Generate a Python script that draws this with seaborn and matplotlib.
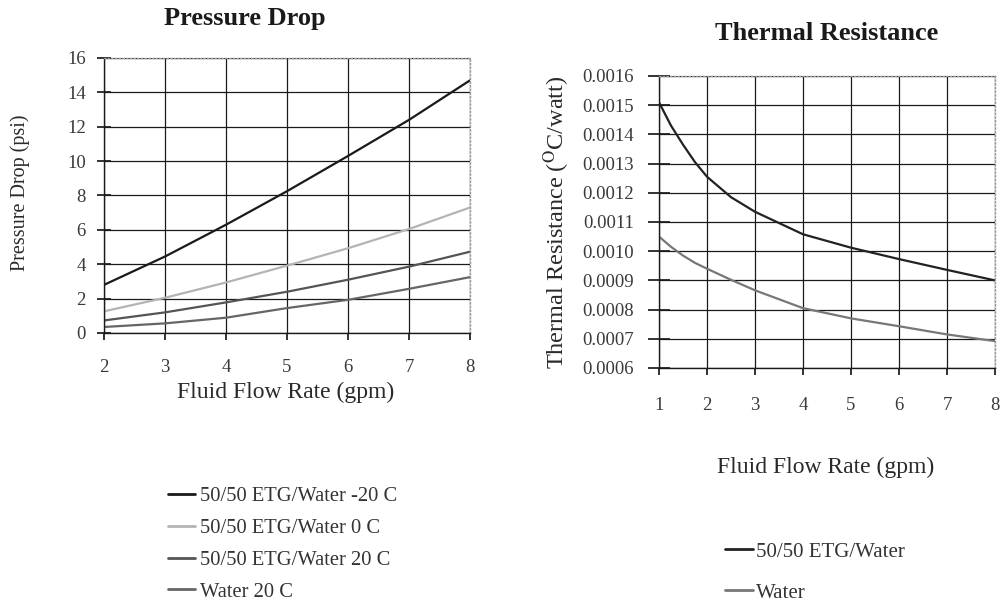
import pandas as pd
import matplotlib.pyplot as plt
import seaborn as sns

# === DATA ===
flow_pd = [2, 3, 4, 5, 6, 7, 8]
etg_m20 = [2.8, 4.45, 6.3, 8.25, 10.3, 12.4, 14.7]
etg_0 = [1.26, 2.05, 2.94, 3.92, 4.93, 6.05, 7.3]
etg_20 = [0.73, 1.2, 1.78, 2.4, 3.1, 3.86, 4.73]
water_20 = [0.35, 0.56, 0.89, 1.45, 1.93, 2.57, 3.25]
pd_names = ["50/50 ETG/Water -20 C", "50/50 ETG/Water 0 C",
            "50/50 ETG/Water 20 C", "Water 20 C"]

flow_tr = [1, 1.25, 1.5, 1.75, 2, 2.5, 3, 4, 5, 6, 7, 8]
tr_etg = [0.00151, 0.00143, 0.001365, 0.001305, 0.001255, 0.001185, 0.001135,
          0.001058, 0.001012, 0.000973, 0.000936, 0.0009]
tr_water = [0.00105, 0.001015, 0.000985, 0.00096, 0.00094, 0.000902, 0.000866,
            0.000805, 0.00077, 0.000743, 0.000715, 0.000692]
tr_names = ["50/50 ETG/Water", "Water"]

pd_df = pd.DataFrame({
    "flow": flow_pd * 4,
    "value": etg_m20 + etg_0 + etg_20 + water_20,
    "series": sum([[n] * len(flow_pd) for n in pd_names], []),
})
tr_df = pd.DataFrame({
    "flow": flow_tr * 2,
    "value": tr_etg + tr_water,
    "series": sum([[n] * len(flow_tr) for n in tr_names], []),
})

sns.set_theme(style="white")
plt.rcParams['font.family'] = ['Liberation Serif', 'DejaVu Serif']
plt.rcParams['mathtext.fontset'] = 'stix'

W, H = 1008, 607
fig = plt.figure(figsize=(W / 100, H / 100), dpi=100)
fig.patch.set_facecolor('white')


def px(x, y):
    # pixel position (from top-left) -> figure fraction
    return x / W, 1 - y / H


def style_axes(ax, xt, yt, ylim, xpad, ypad, ylen):
    ax.set_xlim(xt[0], xt[-1])
    ax.set_ylim(*ylim)
    ax.set_xticks(xt)
    ax.set_yticks(yt)
    ax.grid(True, color='#1a1a1a', linewidth=0.9)
    ax.set_axisbelow(True)
    for s in ['left', 'bottom']:
        ax.spines[s].set_color('#1a1a1a')
        ax.spines[s].set_linewidth(1.0)
    for s in ['top', 'right']:
        ax.spines[s].set_color('#999999')
        ax.spines[s].set_linestyle(':')
        ax.spines[s].set_linewidth(1.0)
    ax.tick_params(axis='x', bottom=True, length=5, color='#1a1a1a', pad=xpad,
                   labelsize=13.5, labelcolor='#3a3a3a')
    ax.tick_params(axis='y', left=True, direction='inout', length=ylen, color='#1a1a1a',
                   pad=ypad, labelsize=13.5, labelcolor='#3a3a3a')


# === PRESSURE DROP ===
ax1 = fig.add_axes([104 / W, 1 - 333 / H, 366 / W, 275 / H])
pal1 = ['#1a1a1a', '#b4b4b4', '#555555', '#666666']
sns.lineplot(data=pd_df, x='flow', y='value', hue='series', palette=pal1,
             linewidth=1.6, ax=ax1, legend=False)
style_axes(ax1, list(range(2, 9)), list(range(0, 17, 2)), (0, 16), 14, 8, 10)
ax1.set_xlabel("")
ax1.set_ylabel("")
fig.text(*px(245, 18), "Pressure Drop", fontsize=19, fontweight='bold',
         ha='center', va='center', color='#1a1a1a')
fig.text(*px(286, 392), "Fluid Flow Rate (gpm)", fontsize=17, ha='center', va='center',
         color='#2a2a2a')
fig.text(*px(20, 193), "Pressure Drop (psi)", fontsize=14.5, ha='center', va='center',
         rotation=90, color='#2a2a2a')

h1 = [plt.Line2D([], [], color=c, linewidth=2) for c in pal1]
fig.legend(h1, pd_names, loc='upper left', bbox_to_anchor=px(168, 487), frameon=False,
           fontsize=14.8, handlelength=1.3, handletextpad=0.25, labelspacing=0.6,
           borderpad=0, borderaxespad=0, labelcolor='#333333')

# === THERMAL RESISTANCE ===
ax2 = fig.add_axes([659 / W, 1 - 368 / H, 336 / W, 292 / H])
pal2 = ['#222222', '#777777']
sns.lineplot(data=tr_df, x='flow', y='value', hue='series', palette=pal2,
             linewidth=1.6, ax=ax2, legend=False)
yt2 = [0.0006 + 0.0001 * i for i in range(11)]
style_axes(ax2, list(range(1, 9)), yt2, (0.0006, 0.0016), 16, 10, 16)
ax2.set_yticklabels([f"{v:.4f}" for v in yt2])
ax2.set_xlabel("")
ax2.set_ylabel("")
fig.text(*px(827, 33), "Thermal Resistance", fontsize=19, fontweight='bold',
         ha='center', va='center', color='#1a1a1a')
fig.text(*px(826, 467), "Fluid Flow Rate (gpm)", fontsize=17, ha='center', va='center',
         color='#2a2a2a')
fig.text(*px(557, 222), r"Thermal Resistance ($^{\rm O}$C/watt)", fontsize=17.5,
         ha='center', va='center', rotation=90, color='#2a2a2a')

h2 = [plt.Line2D([], [], color=c, linewidth=2) for c in pal2]
fig.legend(h2, tr_names, loc='upper left', bbox_to_anchor=px(725, 542), frameon=False,
           fontsize=15, handlelength=1.35, handletextpad=0.15, labelspacing=1.03,
           borderpad=0, borderaxespad=0, labelcolor='#333333')

plt.savefig("out.png", dpi=100, facecolor='white')
plt.close()
